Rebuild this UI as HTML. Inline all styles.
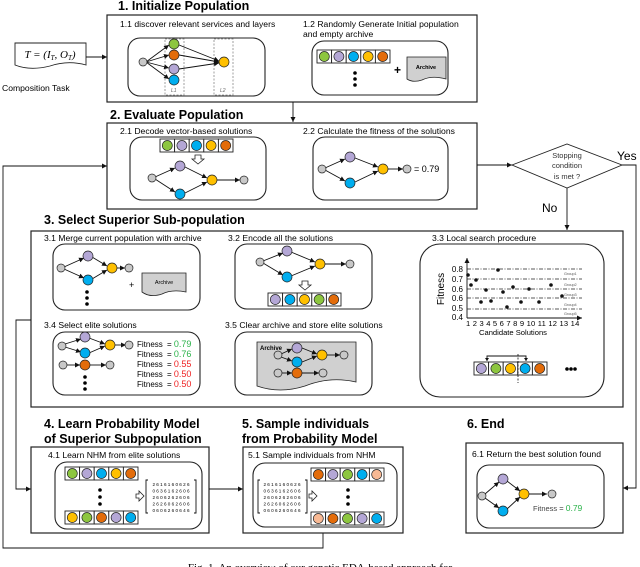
<!DOCTYPE html>
<html><head><meta charset="utf-8"><style>
html,body{margin:0;padding:0;background:#fff;}
svg{display:block;font-family:"Liberation Sans",sans-serif;}
.t{font-weight:bold;font-size:12.5px;}
.s{font-size:8.6px;}
.m{font-size:4.6px;}
.b{fill:none;stroke:#222;stroke-width:1.2;}
.r{fill:#fff;stroke:#222;stroke-width:1.1;}
.l{stroke:#111;stroke-width:0.9;fill:none;}
.n{stroke:#222;stroke-width:0.7;}
.g{fill:#c8c8c8;} .gr{fill:#8dc63f;} .pu{fill:#b4a7d6;} .bl{fill:#00aeef;} .ye{fill:#ffc000;} .or{fill:#e36c0a;} .pe{fill:#f8b994;}
</style></head><body>
<svg width="640" height="567" viewBox="0 0 640 567" xmlns="http://www.w3.org/2000/svg">
<defs>
<marker id="a" markerWidth="6" markerHeight="6" refX="5" refY="3" orient="auto" markerUnits="userSpaceOnUse"><path d="M0,0.5 L5,3 L0,5.5z" fill="#111"/></marker>
<g id="vc"><rect x="0" y="0" width="14.6" height="13" fill="#fff" stroke="#222" stroke-width="0.9"/></g>
</defs>

<!-- composition task -->
<path d="M15,43 H86 V65 Q68,60 50,66 Q30,71 15,65 Z" fill="#fff" stroke="#222" stroke-width="0.9"/>
<text x="50" y="58" text-anchor="middle" font-family="Liberation Serif,serif" font-style="italic" font-size="11">T = (I<tspan font-size="7" dy="2">T</tspan><tspan dy="-2">, O</tspan><tspan font-size="7" dy="2">T</tspan><tspan dy="-2">)</tspan></text>
<text x="2" y="91" class="s" font-size="9">Composition Task</text>
<line x1="86" y1="57" x2="107" y2="57" class="l" marker-end="url(#a)"/>

<!-- Box 1 -->
<text x="118" y="10" class="t">1. Initialize Population</text>
<rect x="107" y="15" width="370" height="87" class="b"/>
<text x="120" y="27" class="s">1.1 discover relevant services and layers</text>
<rect x="128" y="38" width="137" height="58" rx="12" class="r"/>
<rect x="165" y="39" width="19" height="56" fill="none" stroke="#888" stroke-dasharray="2,1.5" stroke-width="0.8"/>
<rect x="214" y="39" width="19" height="56" fill="none" stroke="#888" stroke-dasharray="2,1.5" stroke-width="0.8"/>
<text x="171" y="92" font-size="5" fill="#666" font-style="italic">L1</text>
<text x="220" y="92" font-size="5" fill="#666" font-style="italic">L2</text>
<g class="l">
<line x1="146" y1="62" x2="169" y2="45" marker-end="url(#a)"/><line x1="146" y1="62" x2="169" y2="55" marker-end="url(#a)"/>
<line x1="146" y1="62" x2="169" y2="68" marker-end="url(#a)"/><line x1="146" y1="62" x2="169" y2="79" marker-end="url(#a)"/>
<line x1="179" y1="45" x2="219" y2="61" marker-end="url(#a)"/><line x1="179" y1="55" x2="219" y2="62" marker-end="url(#a)"/>
<line x1="179" y1="69" x2="219" y2="63" marker-end="url(#a)"/>
</g>
<circle cx="143" cy="62" r="4" class="n g"/>
<circle cx="174" cy="44" r="5" class="n gr"/><circle cx="174" cy="55" r="5" class="n or"/>
<circle cx="174" cy="69" r="5" class="n pu"/><circle cx="174" cy="80" r="5" class="n bl"/>
<circle cx="224" cy="62" r="5" class="n ye"/>
<text x="303" y="27" class="s">1.2 Randomly  Generate Initial population</text>
<text x="303" y="37" class="s">and empty archive</text>
<rect x="312" y="41" width="136" height="54" rx="12" class="r"/>
<use href="#vc" x="317" y="50"/><use href="#vc" x="331.6" y="50"/><use href="#vc" x="346.2" y="50"/><use href="#vc" x="360.8" y="50"/><use href="#vc" x="375.4" y="50"/>
<circle cx="324.3" cy="56.5" r="5" class="n gr"/><circle cx="338.9" cy="56.5" r="5" class="n pu"/><circle cx="353.5" cy="56.5" r="5" class="n bl"/><circle cx="368.1" cy="56.5" r="5" class="n ye"/><circle cx="382.7" cy="56.5" r="5" class="n or"/>
<circle cx="355" cy="73" r="1.8"/><circle cx="355" cy="79" r="1.8"/><circle cx="355" cy="85" r="1.8"/>
<text x="394" y="74" font-size="12" font-weight="bold">+</text>
<path d="M407,57 H446 V79 Q432,75 422,80 Q413,83 407,79 Z" fill="#d0d0d0" stroke="#222" stroke-width="0.8"/>
<text x="426" y="69" text-anchor="middle" font-size="5.5" font-weight="bold">Archive</text>

<line x1="293" y1="102" x2="293" y2="122" class="l" marker-end="url(#a)"/>

<!-- Box 2 -->
<text x="110" y="119" class="t">2. Evaluate Population</text>
<rect x="107" y="123" width="370" height="86" class="b"/>
<text x="120" y="134" class="s">2.1 Decode vector-based solutions</text>
<rect x="130" y="137" width="136" height="63" rx="12" class="r"/>
<use href="#vc" x="160" y="139"/><use href="#vc" x="174.6" y="139"/><use href="#vc" x="189.2" y="139"/><use href="#vc" x="203.8" y="139"/><use href="#vc" x="218.4" y="139"/>
<circle cx="167.3" cy="145.5" r="5" class="n gr"/><circle cx="181.9" cy="145.5" r="5" class="n pu"/><circle cx="196.5" cy="145.5" r="5" class="n bl"/><circle cx="211.1" cy="145.5" r="5" class="n ye"/><circle cx="225.7" cy="145.5" r="5" class="n or"/>
<path d="M195,155 h6 v4 h3 l-6,5 l-6,-5 h3z" fill="#fff" stroke="#222" stroke-width="0.8"/>
<g class="l"><line x1="155" y1="177" x2="175" y2="168" marker-end="url(#a)"/><line x1="155" y1="179" x2="175" y2="192" marker-end="url(#a)"/>
<line x1="185" y1="167" x2="207" y2="178" marker-end="url(#a)"/><line x1="185" y1="193" x2="207" y2="182" marker-end="url(#a)"/><line x1="217" y1="180" x2="240" y2="180" marker-end="url(#a)"/></g>
<circle cx="152" cy="178" r="4" class="n g"/><circle cx="180" cy="166" r="5" class="n pu"/><circle cx="180" cy="194" r="5" class="n bl"/><circle cx="212" cy="180" r="5" class="n ye"/><circle cx="244" cy="180" r="4" class="n g"/>
<text x="303" y="134" class="s">2.2 Calculate the fitness of  the solutions</text>
<rect x="313" y="137" width="135" height="63" rx="12" class="r"/>
<g class="l"><line x1="325" y1="168" x2="345" y2="159" marker-end="url(#a)"/><line x1="325" y1="170" x2="345" y2="181" marker-end="url(#a)"/>
<line x1="355" y1="158" x2="378" y2="167" marker-end="url(#a)"/><line x1="355" y1="182" x2="378" y2="171" marker-end="url(#a)"/><line x1="388" y1="169" x2="403" y2="169" marker-end="url(#a)"/></g>
<circle cx="322" cy="169" r="4" class="n g"/><circle cx="350" cy="157" r="5" class="n pu"/><circle cx="350" cy="183" r="5" class="n bl"/><circle cx="383" cy="169" r="5" class="n ye"/><circle cx="407" cy="169" r="4" class="n g"/>
<text x="414" y="172" font-size="9">= 0.79</text>

<line x1="477" y1="165" x2="512" y2="165" class="l" marker-end="url(#a)"/>
<path d="M512,165 L567,144 L622,165 L567,188 Z" fill="#fff" stroke="#222" stroke-width="0.9"/>
<text x="567" y="158" text-anchor="middle" font-size="7.5" fill="#333">Stopping</text>
<text x="567" y="168" text-anchor="middle" font-size="7.5" fill="#333">condition</text>
<text x="567" y="179" text-anchor="middle" font-size="7.5" fill="#333">is met ?</text>
<text x="617" y="160" font-size="12">Yes</text>
<text x="542" y="212" font-size="12">No</text>
<line x1="567" y1="188" x2="567" y2="230" class="l" marker-end="url(#a)"/>
<polyline points="622,165 636,165 636,488 623,488" class="l" marker-end="url(#a)"/>

<!-- Box 3 -->
<text x="44" y="224" class="t">3. Select Superior Sub-population</text>
<rect x="31" y="231" width="592" height="176" class="b"/>
<text x="44" y="241" class="s">3.1 Merge current population with archive</text>
<rect x="53" y="244" width="147" height="66" rx="12" class="r"/>
<g class="l"><line x1="64" y1="267" x2="84" y2="258" marker-end="url(#a)"/><line x1="64" y1="269" x2="84" y2="278" marker-end="url(#a)"/>
<line x1="92" y1="257" x2="107" y2="266" marker-end="url(#a)"/><line x1="92" y1="279" x2="107" y2="270" marker-end="url(#a)"/><line x1="117" y1="268" x2="125" y2="268" marker-end="url(#a)"/></g>
<circle cx="61" cy="268" r="4" class="n g"/><circle cx="88" cy="256" r="5" class="n pu"/><circle cx="88" cy="280" r="5" class="n bl"/><circle cx="112" cy="268" r="5" class="n ye"/><circle cx="129" cy="268" r="4" class="n g"/>
<circle cx="87" cy="292" r="1.8"/><circle cx="87" cy="298" r="1.8"/><circle cx="87" cy="304" r="1.8"/>
<text x="129" y="288" font-size="9">+</text>
<path d="M142,273 H186 V292 Q172,289 162,294 Q150,298 142,292 Z" fill="#d0d0d0" stroke="#222" stroke-width="0.8"/>
<text x="164" y="284" text-anchor="middle" font-size="5.5">Archive</text>

<text x="228" y="241" class="s">3.2 Encode all the solutions</text>
<rect x="235" y="244" width="137" height="65" rx="12" class="r"/>
<g class="l"><line x1="263" y1="261" x2="283" y2="253" marker-end="url(#a)"/><line x1="263" y1="263" x2="283" y2="275" marker-end="url(#a)"/>
<line x1="291" y1="252" x2="315" y2="262" marker-end="url(#a)"/><line x1="291" y1="276" x2="315" y2="266" marker-end="url(#a)"/><line x1="325" y1="264" x2="346" y2="264" marker-end="url(#a)"/></g>
<circle cx="260" cy="262" r="4" class="n g"/><circle cx="287" cy="251" r="5" class="n pu"/><circle cx="287" cy="277" r="5" class="n bl"/><circle cx="320" cy="264" r="5" class="n ye"/><circle cx="350" cy="264" r="4" class="n g"/>
<path d="M302,281 h6 v4 h3 l-6,5 l-6,-5 h3z" fill="#fff" stroke="#222" stroke-width="0.8"/>
<use href="#vc" x="268" y="293"/><use href="#vc" x="282.6" y="293"/><use href="#vc" x="297.2" y="293"/><use href="#vc" x="311.8" y="293"/><use href="#vc" x="326.4" y="293"/>
<circle cx="275.3" cy="299.5" r="5" class="n pu"/><circle cx="289.9" cy="299.5" r="5" class="n bl"/><circle cx="304.5" cy="299.5" r="5" class="n ye"/><circle cx="319.1" cy="299.5" r="5" class="n gr"/><circle cx="333.7" cy="299.5" r="5" class="n or"/>

<text x="432" y="241" class="s">3.3 Local search procedure</text>
<rect x="420" y="244" width="184" height="153" rx="20" class="r"/>
<line x1="467" y1="318" x2="467" y2="258" class="l" marker-end="url(#a)"/>
<line x1="467" y1="318" x2="582" y2="318" class="l" marker-end="url(#a)"/>
<g font-size="8" text-anchor="end"><text x="463" y="272">0.8</text><text x="463" y="282">0.7</text><text x="463" y="292">0.6</text><text x="463" y="301">0.6</text><text x="463" y="311">0.5</text><text x="463" y="320">0.4</text></g>
<text transform="translate(444,289) rotate(-90)" text-anchor="middle" font-size="10">Fitness</text>
<g stroke="#222" stroke-width="0.7" stroke-dasharray="4,1.5,1,1.5"><line x1="467" y1="269" x2="582" y2="269"/><line x1="467" y1="279" x2="582" y2="279"/><line x1="467" y1="289" x2="582" y2="289"/><line x1="467" y1="298" x2="582" y2="298"/><line x1="467" y1="309" x2="582" y2="309"/></g>
<g font-size="3.8" fill="#555"><text x="564" y="275">Group1</text><text x="564" y="286">Group2</text><text x="564" y="296">Group3</text><text x="564" y="306">Group4</text><text x="564" y="315">Group5</text></g>
<g fill="#111"><circle cx="468" cy="275" r="1.8"/><circle cx="471" cy="285" r="1.8"/><circle cx="476" cy="280" r="1.8"/><circle cx="481" cy="302" r="1.8"/><circle cx="486" cy="290" r="1.8"/><circle cx="491" cy="301" r="1.8"/><circle cx="498" cy="270" r="1.8"/><circle cx="503" cy="292" r="1.8"/><circle cx="507" cy="307" r="1.8"/><circle cx="513" cy="287" r="1.8"/><circle cx="521" cy="302" r="1.8"/><circle cx="529" cy="289" r="1.8"/><circle cx="539" cy="302" r="1.8"/><circle cx="551" cy="285" r="1.8"/><circle cx="562" cy="296" r="1.8"/></g>
<text x="466" y="326" font-size="7.6" letter-spacing="0.2">1 2 3 4 5 6 7 8 9 10 11 12 13 14</text>
<text x="513" y="335" text-anchor="middle" font-size="7.6">Candidate Solutions</text>
<polyline points="487,361 487,356 526,356 526,361" class="l"/>
<path d="M485,358 l2,3 l2,-3z M524,358 l2,3 l2,-3z" fill="#111"/>
<use href="#vc" x="474" y="362"/><use href="#vc" x="488.6" y="362"/><use href="#vc" x="503.2" y="362"/><use href="#vc" x="517.8" y="362"/><use href="#vc" x="532.4" y="362"/>
<circle cx="481.3" cy="368.5" r="5" class="n pu"/><circle cx="495.9" cy="368.5" r="5" class="n gr"/><circle cx="510.5" cy="368.5" r="5" class="n ye"/><circle cx="525.1" cy="368.5" r="5" class="n bl"/><circle cx="539.7" cy="368.5" r="5" class="n or"/>
<line x1="518" y1="354" x2="518" y2="383" stroke="#111" stroke-width="0.8" stroke-dasharray="2,1.5"/>
<circle cx="567" cy="369" r="1.8"/><circle cx="571" cy="369" r="1.8"/><circle cx="575" cy="369" r="1.8"/>

<text x="44" y="328" class="s">3.4 Select elite solutions</text>
<rect x="53" y="332" width="147" height="63" rx="12" class="r"/>
<g class="l"><line x1="65" y1="344" x2="81" y2="339" marker-end="url(#a)"/><line x1="65" y1="347" x2="81" y2="352" marker-end="url(#a)"/>
<line x1="89" y1="338" x2="105" y2="344" marker-end="url(#a)"/><line x1="89" y1="353" x2="105" y2="346" marker-end="url(#a)"/><line x1="115" y1="345" x2="126" y2="345" marker-end="url(#a)"/>
<line x1="67" y1="365" x2="80" y2="365" marker-end="url(#a)"/><line x1="90" y1="365" x2="106" y2="365" marker-end="url(#a)"/></g>
<circle cx="62" cy="346" r="4" class="n g"/><circle cx="85" cy="337" r="5" class="n pu"/><circle cx="85" cy="353" r="5" class="n bl"/><circle cx="110" cy="345" r="5" class="n ye"/><circle cx="129" cy="345" r="4" class="n g"/>
<circle cx="63" cy="365" r="4" class="n g"/><circle cx="85" cy="365" r="5" class="n or"/><circle cx="110" cy="365" r="4" class="n g"/>
<circle cx="85" cy="377" r="1.8"/><circle cx="85" cy="383" r="1.8"/><circle cx="85" cy="389" r="1.8"/>
<g font-size="8"><text x="137" y="347">Fitness</text><text x="137" y="357">Fitness</text><text x="137" y="367">Fitness</text><text x="137" y="377">Fitness</text><text x="137" y="387">Fitness</text>
<text x="167" y="347">= <tspan fill="#2bb34a" font-size="9">0.79</tspan></text><text x="167" y="357">= <tspan fill="#2bb34a" font-size="9">0.76</tspan></text>
<text x="167" y="367">= <tspan fill="#ee2222" font-size="9">0.55</tspan></text><text x="167" y="377">= <tspan fill="#ee2222" font-size="9">0.50</tspan></text><text x="167" y="387">= <tspan fill="#ee2222" font-size="9">0.50</tspan></text></g>

<text x="225" y="328" class="s">3.5 Clear archive and store elite solutions</text>
<rect x="235" y="332" width="137" height="63" rx="12" class="r"/>
<path d="M257,342 H356 V382 Q330,376 305,386 Q280,394 257,386 Z" fill="#d0d0d0" stroke="#222" stroke-width="0.8"/>
<text x="260" y="350" font-size="6" font-weight="bold">Archive</text>
<g class="l"><line x1="281" y1="354" x2="292" y2="349" marker-end="url(#a)"/><line x1="281" y1="357" x2="292" y2="361" marker-end="url(#a)"/>
<line x1="302" y1="348" x2="317" y2="354" marker-end="url(#a)"/><line x1="302" y1="362" x2="317" y2="356" marker-end="url(#a)"/><line x1="327" y1="355" x2="340" y2="355" marker-end="url(#a)"/>
<line x1="282" y1="373" x2="292" y2="373" marker-end="url(#a)"/><line x1="302" y1="373" x2="319" y2="373" marker-end="url(#a)"/></g>
<circle cx="278" cy="355" r="4" class="n g"/><circle cx="297" cy="348" r="5" class="n pu"/><circle cx="297" cy="362" r="5" class="n bl"/><circle cx="322" cy="355" r="5" class="n ye"/><circle cx="344" cy="355" r="4" class="n g"/>
<circle cx="278" cy="373" r="4" class="n g"/><circle cx="297" cy="373" r="5" class="n or"/><circle cx="323" cy="373" r="4" class="n g"/>

<!-- feedback lines -->
<polyline points="31,320 16,320 16,489 31,489" class="l" marker-end="url(#a)"/>
<polyline points="323,533 323,548 3,548 3,166 107,166" class="l" marker-end="url(#a)"/>

<!-- Box 4 -->
<text x="44" y="428" class="t">4. Learn Probability Model</text>
<text x="44" y="443" class="t">of Superior Subpopulation</text>
<rect x="31" y="447" width="178" height="86" class="b"/>
<text x="48" y="458" class="s">4.1 Learn NHM from elite solutions</text>
<rect x="55" y="462" width="147" height="67" rx="12" class="r"/>
<use href="#vc" x="65" y="467"/><use href="#vc" x="79.6" y="467"/><use href="#vc" x="94.2" y="467"/><use href="#vc" x="108.8" y="467"/><use href="#vc" x="123.4" y="467"/>
<circle cx="72.3" cy="473.5" r="5" class="n gr"/><circle cx="86.9" cy="473.5" r="5" class="n pu"/><circle cx="101.5" cy="473.5" r="5" class="n bl"/><circle cx="116.1" cy="473.5" r="5" class="n ye"/><circle cx="130.7" cy="473.5" r="5" class="n or"/>
<circle cx="100" cy="490" r="1.8"/><circle cx="100" cy="497" r="1.8"/><circle cx="100" cy="504" r="1.8"/>
<use href="#vc" x="65" y="511"/><use href="#vc" x="79.6" y="511"/><use href="#vc" x="94.2" y="511"/><use href="#vc" x="108.8" y="511"/><use href="#vc" x="123.4" y="511"/>
<circle cx="72.3" cy="517.5" r="5" class="n ye"/><circle cx="86.9" cy="517.5" r="5" class="n gr"/><circle cx="101.5" cy="517.5" r="5" class="n or"/><circle cx="116.1" cy="517.5" r="5" class="n pu"/><circle cx="130.7" cy="517.5" r="5" class="n bl"/>
<path d="M136,494 h3 v-3 l5,5 l-5,5 v-3 h-3z" fill="#fff" stroke="#222" stroke-width="0.8"/>
<path d="M148,480 h-2 v33 h2 M194,480 h2 v33 h-2" class="l" stroke-width="0.7"/>
<g class="m" text-anchor="middle"><text x="171" y="486">2 6 1 6 1 6 0 6 2 6</text><text x="171" y="492.5">0 6 3 6 1 6 2 6 0 6</text><text x="171" y="499">2 6 0 6 2 6 2 6 0 6</text><text x="171" y="505.5">2 6 2 6 0 6 2 6 0 6</text><text x="171" y="512">0 6 0 6 2 6 0 6 4 6</text></g>
<line x1="209" y1="489" x2="243" y2="489" class="l" marker-end="url(#a)"/>

<!-- Box 5 -->
<text x="242" y="428" class="t">5. Sample individuals</text>
<text x="242" y="443" class="t">from Probability Model</text>
<rect x="243" y="447" width="160" height="86" class="b"/>
<text x="248" y="458" class="s">5.1 Sample  individuals  from NHM</text>
<rect x="253" y="463" width="144" height="64" rx="12" class="r"/>
<path d="M260,480 h-2 v33 h2 M305,480 h2 v33 h-2" class="l" stroke-width="0.7"/>
<g class="m" text-anchor="middle"><text x="282" y="486">2 6 1 6 1 6 0 6 2 6</text><text x="282" y="492.5">0 6 3 6 1 6 2 6 0 6</text><text x="282" y="499">2 6 0 6 2 6 2 6 0 6</text><text x="282" y="505.5">2 6 2 6 0 6 2 6 0 6</text><text x="282" y="512">0 6 0 6 2 6 0 6 4 6</text></g>
<path d="M309,494 h3 v-3 l5,5 l-5,5 v-3 h-3z" fill="#fff" stroke="#222" stroke-width="0.8"/>
<use href="#vc" x="311" y="468"/><use href="#vc" x="325.6" y="468"/><use href="#vc" x="340.2" y="468"/><use href="#vc" x="354.8" y="468"/><use href="#vc" x="369.4" y="468"/>
<circle cx="318.3" cy="474.5" r="5" class="n or"/><circle cx="332.9" cy="474.5" r="5" class="n pu"/><circle cx="347.5" cy="474.5" r="5" class="n gr"/><circle cx="362.1" cy="474.5" r="5" class="n bl"/><circle cx="376.7" cy="474.5" r="5" class="n pe"/>
<circle cx="348" cy="490" r="1.8"/><circle cx="348" cy="497" r="1.8"/><circle cx="348" cy="504" r="1.8"/>
<use href="#vc" x="311" y="512"/><use href="#vc" x="325.6" y="512"/><use href="#vc" x="340.2" y="512"/><use href="#vc" x="354.8" y="512"/><use href="#vc" x="369.4" y="512"/>
<circle cx="318.3" cy="518.5" r="5" class="n pe"/><circle cx="332.9" cy="518.5" r="5" class="n or"/><circle cx="347.5" cy="518.5" r="5" class="n gr"/><circle cx="362.1" cy="518.5" r="5" class="n pu"/><circle cx="376.7" cy="518.5" r="5" class="n bl"/>

<!-- Box 6 -->
<text x="467" y="428" class="t">6. End</text>
<rect x="466" y="443" width="157" height="90" class="b"/>
<text x="472" y="457" class="s">6.1 Return the best solution found</text>
<rect x="477" y="465" width="127" height="63" rx="12" class="r"/>
<g class="l"><line x1="485" y1="494" x2="499" y2="482" marker-end="url(#a)"/><line x1="485" y1="498" x2="499" y2="508" marker-end="url(#a)"/>
<line x1="507" y1="481" x2="520" y2="491" marker-end="url(#a)"/><line x1="507" y1="509" x2="520" y2="497" marker-end="url(#a)"/><line x1="529" y1="494" x2="547" y2="494" marker-end="url(#a)"/></g>
<circle cx="482" cy="496" r="4" class="n g"/><circle cx="503" cy="479" r="5" class="n pu"/><circle cx="503" cy="511" r="5" class="n bl"/><circle cx="524" cy="494" r="5" class="n ye"/><circle cx="552" cy="494" r="4" class="n g"/>
<text x="533" y="511" font-size="7.5" fill="#444">Fitness = <tspan fill="#2bb34a" font-size="8.5">0.79</tspan></text>

<text x="320" y="571" text-anchor="middle" font-family="Liberation Serif,serif" font-size="11">Fig. 1. An overview of our genetic EDA-based approach for</text>
</svg>
</body></html>
